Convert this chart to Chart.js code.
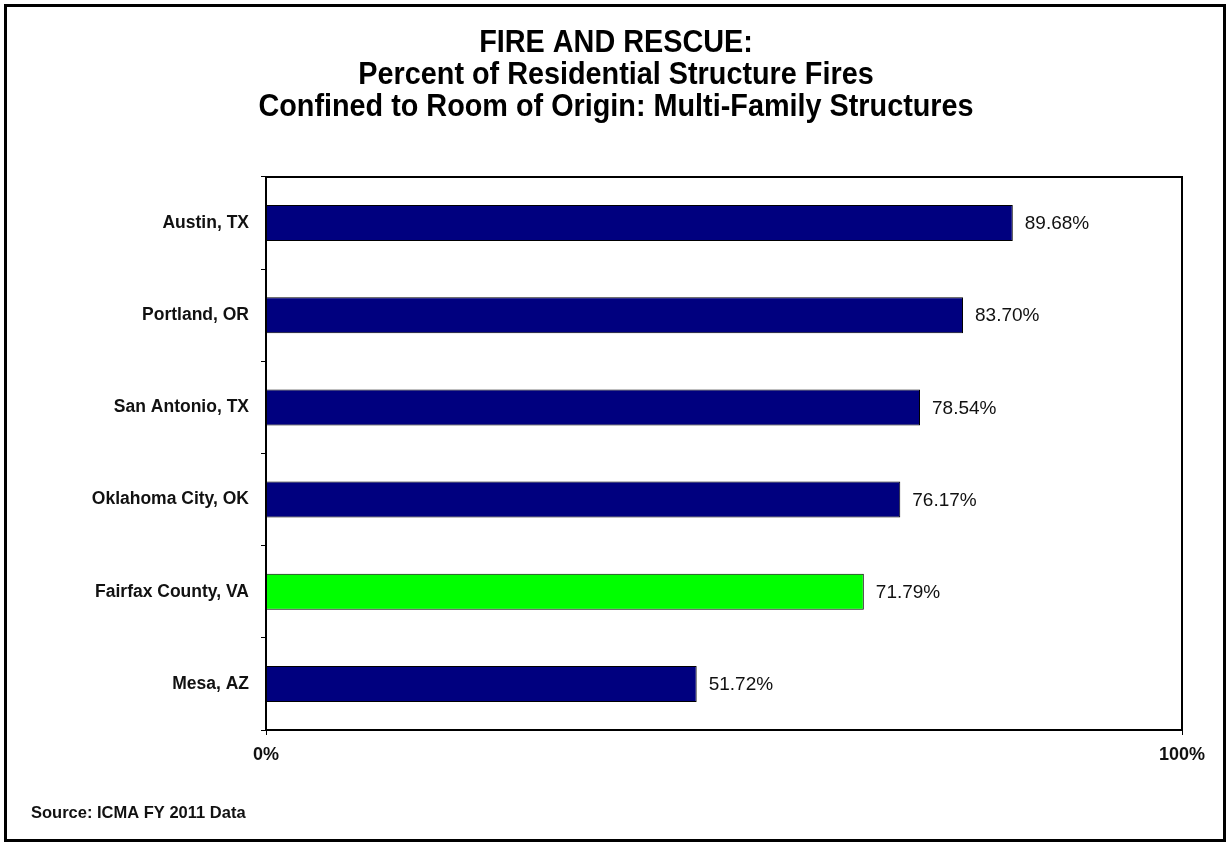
<!DOCTYPE html>
<html>
<head>
<meta charset="utf-8">
<script src="https://cdn.jsdelivr.net/npm/chart.js@4.4.0/dist/chart.umd.min.js"></script>
<style>
  html, body { margin: 0; padding: 0; background: #fff; }
  #wrap { width: 1231px; height: 844px; }
</style>
</head>
<body>
<div id="wrap"><canvas id="fireChart" width="1231" height="844"></canvas></div>
<script>
// values
const cities = ['Austin, TX', 'Portland, OR', 'San Antonio, TX', 'Oklahoma City, OK', 'Fairfax County, VA', 'Mesa, AZ'];
const confinedPct = [89.68, 83.70, 78.54, 76.17, 71.79, 51.72];
const barColors = ['#00007f', '#00007f', '#00007f', '#00007f', '#00ff00', '#00007f'];
const xTickLabels = ['0%', '100%'];
const titleLines = ['FIRE AND RESCUE:', 'Percent of Residential Structure Fires', 'Confined to Room of Origin: Multi-Family Structures'];
const sourceNote = 'Source: ICMA FY 2011 Data';

const axisMax = 110; // the Excel axis runs a bit past the last label

// frame, plot box, title, source and value labels
const decorations = {
  id: 'decorations',
  afterDatasetsDraw(chart) {
    const ctx = chart.ctx;
    const a = chart.chartArea;
    ctx.save();
    ctx.strokeStyle = '#000';
    ctx.lineWidth = 2;
    ctx.strokeRect(a.left, a.top, a.right - a.left, a.bottom - a.top);

    // value labels right of each bar
    ctx.fillStyle = '#111';
    ctx.font = '19px "Liberation Sans", Arial, sans-serif';
    ctx.textAlign = 'left';
    ctx.textBaseline = 'middle';
    chart.getDatasetMeta(0).data.forEach(function (bar, i) {
      ctx.fillText(confinedPct[i].toFixed(2) + '%', bar.x + 12, bar.y + 1);
    });
    ctx.restore();
  },
  afterDraw(chart) {
    const ctx = chart.ctx;
    ctx.save();
    ctx.strokeStyle = '#000';
    ctx.lineWidth = 3;
    ctx.strokeRect(5.5, 5.5, 1219, 835);

    // title: squeeze a bigger font sideways to get the condensed look
    ctx.fillStyle = '#000';
    ctx.textAlign = 'center';
    ctx.textBaseline = 'middle';
    ctx.font = 'bold 32px "Liberation Sans", Arial, sans-serif';
    const squeeze = 0.9;
    titleLines.forEach(function (line, i) {
      ctx.save();
      ctx.translate(616, 43 + i * 32);
      ctx.scale(squeeze, 1);
      ctx.fillText(line, 0, 0);
      ctx.restore();
    });

    ctx.textAlign = 'left';
    ctx.font = 'bold 16.5px "Liberation Sans", Arial, sans-serif';
    ctx.fillStyle = '#111';
    ctx.fillText(sourceNote, 31, 813);
    ctx.restore();
  }
};

const ctx = document.getElementById('fireChart').getContext('2d');
new Chart(ctx, {
  type: 'bar',
  data: {
    labels: cities,
    datasets: [{
      data: confinedPct,
      backgroundColor: barColors,
      borderColor: '#000',
      borderWidth: 1,
      barPercentage: 0.39,
      categoryPercentage: 1
    }]
  },
  options: {
    indexAxis: 'y',
    responsive: false,
    animation: false,
    layout: { padding: { top: 177, right: 49, left: 0, bottom: 0 } },
    scales: {
      x: {
        min: 0,
        max: axisMax,
        afterBuildTicks: function (scale) {
          scale.ticks = [{ value: 0 }, { value: axisMax }];
        },
        afterFit: function (scale) { scale.height = 114; },
        grid: { drawOnChartArea: false, drawTicks: true, tickLength: 5, color: '#000' },
        border: { display: false },
        ticks: {
          color: '#111',
          padding: 9,
          maxRotation: 0,
          font: { family: '"Liberation Sans", Arial, sans-serif', size: 18, weight: 'bold' },
          callback: function (value, index) { return xTickLabels[index]; }
        }
      },
      y: {
        offset: true,
        afterFit: function (scale) { scale.width = 266; },
        grid: { drawOnChartArea: false, drawTicks: true, tickLength: 5, offset: true, color: '#000' },
        border: { display: false },
        ticks: {
          color: '#111',
          padding: 12,
          font: { family: '"Liberation Sans", Arial, sans-serif', size: 17.5, weight: 'bold' }
        }
      }
    },
    plugins: {
      legend: { display: false },
      title: { display: false },
      tooltip: { enabled: false }
    }
  },
  plugins: [decorations]
});
</script>
</body>
</html>
